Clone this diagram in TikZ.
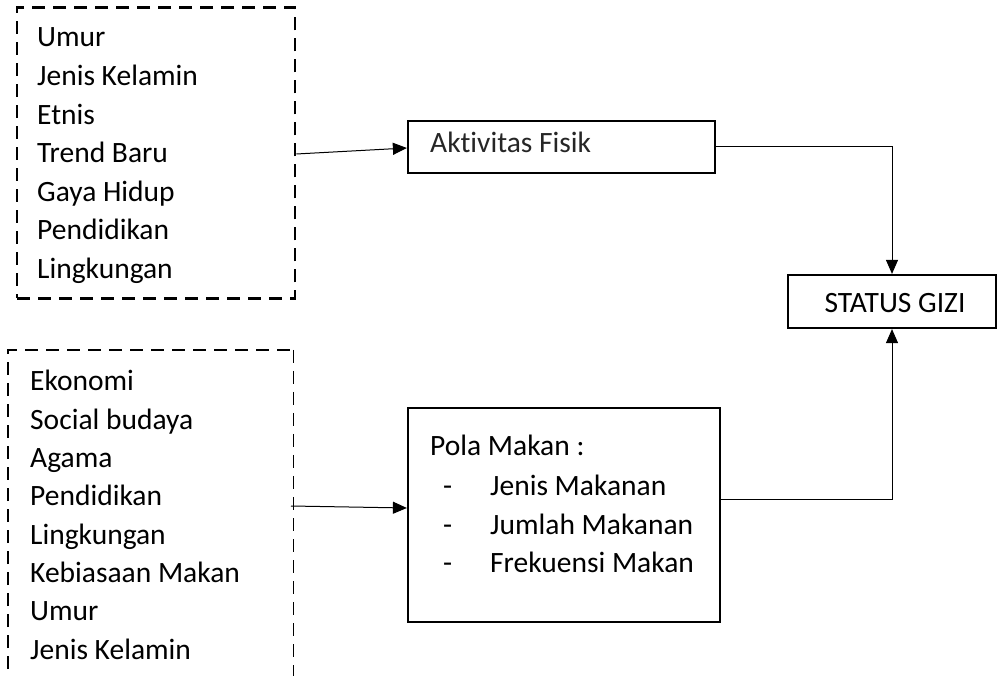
\documentclass[tikz,border=0pt]{standalone}
\usepackage{fontspec}
\setmainfont[Ligatures=NoCommon]{Carlito}
\usetikzlibrary{arrows.meta}
\begin{document}
\begin{tikzpicture}[x=1pt,y=-1pt,
  lbl/.style={anchor=base west,inner sep=0pt,font=\fontsize{29.5}{35}\selectfont},
  solidbox/.style={draw,line width=2.2pt,inner sep=0pt},
  dashbox/.style={draw,line width=2.6pt,dash pattern=on 13pt off 8pt,inner sep=0pt},
  conn/.style={line width=1pt},
  arr/.style={conn,-{Triangle[length=14pt,width=12pt]}}]
\useasboundingbox (0,0) rectangle (997,676);
% boxes
\node[dashbox,minimum width=278pt,minimum height=291pt] (b1) at (156,153) {};
\node[solidbox,minimum width=307pt,minimum height=52pt] (akt) at (561.5,147) {};
\node[solidbox,minimum width=208pt,minimum height=53pt] (stat) at (892,301.5) {};
\node[solidbox,minimum width=312pt,minimum height=214pt] (pola) at (564,515) {};
% second dashed box (open at the bottom)
\draw[line width=2.6pt,dash pattern=on 13pt off 8pt] (8,690) -- (8,350) -- (293,350);
\draw[line width=1pt,dash pattern=on 13pt off 8pt] (293,350) -- (293,690);
\coordinate (b2) at (291,506);
% texts box 1
\foreach \t [count=\i from 0] in {Umur,Jenis Kelamin,Etnis,Trend Baru,Gaya Hidup,Pendidikan,Lingkungan}
  \node[lbl] (ta\i) at (37,47+38.6*\i) {\t};
% texts box 2
\foreach \t [count=\i from 0] in {Ekonomi,Social budaya,Agama,Pendidikan,Lingkungan,Kebiasaan Makan,Umur,Jenis Kelamin}
  \node[lbl] (tb\i) at (30,391+38.3*\i) {\t};
\node[lbl,text=black!85] (takt) at (430,153) {Aktivitas Fisik};
\node[lbl,anchor=base] (tstat) at (895,313) {STATUS GIZI};
\node[lbl] (tpola) at (430,456) {Pola Makan :};
\foreach \t [count=\i from 0] in {Jenis Makanan,Jumlah Makanan,Frekuensi Makan}{
  \node[lbl] (td\i) at (443,496+38*\i) {-};
  \node[lbl] (tp\i) at (490,496+38*\i) {\t};
}
% connectors
\draw[arr] ([yshift=-1pt]b1.east) -- ([yshift=-1pt]akt.west);
\draw[arr] (akt.east) -| (stat.north);
\draw[arr] (b2) -- ([yshift=-2pt]pola.west |- b2);
\draw[arr] ([yshift=16pt]pola.east) -| (stat.south);
\end{tikzpicture}
\end{document}
